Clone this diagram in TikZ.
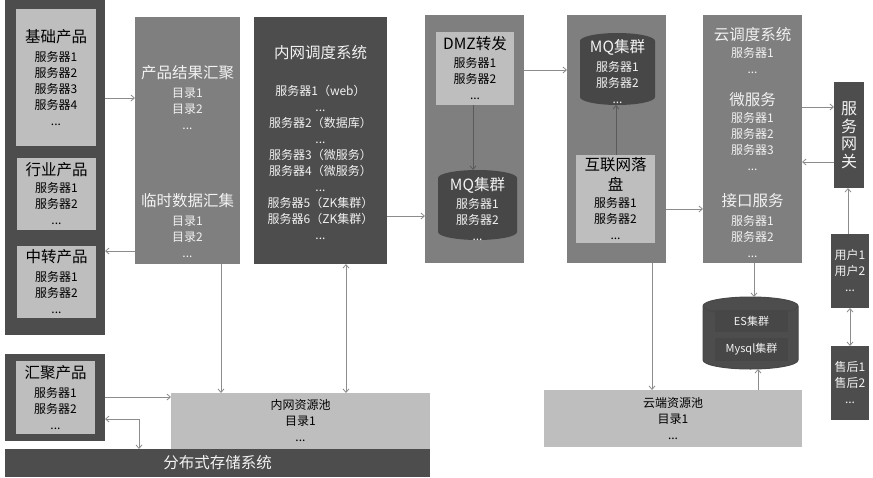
\documentclass[tikz,border=0pt]{standalone}
\usepackage{fontspec}
\setmainfont{Noto Sans CJK SC}
\usetikzlibrary{shapes.geometric,arrows.meta}
\definecolor{boxdark}{HTML}{4D4D4D}
\definecolor{boxmid}{HTML}{7F7F7F}
\definecolor{boxlight}{HTML}{BEBEBE}
\definecolor{cyldark}{HTML}{474747}
\definecolor{linegray}{HTML}{8C8C8C}
\definecolor{linedark}{HTML}{5A5A5A}
\definecolor{textlight}{HTML}{F2F2F2}
\newcommand{\headfont}{\fontsize{15.5}{19}\selectfont}
\tikzset{
  darkbox/.style={fill=boxdark,inner sep=1pt,outer sep=0pt,text=textlight,align=center},
  midbox/.style={fill=boxmid,inner sep=1pt,outer sep=0pt,text=textlight,align=center},
  lightbox/.style={fill=boxlight,inner sep=1pt,outer sep=0pt,text=black,align=center},
  cyl/.style={cylinder,shape border rotate=90,anchor=shape center,inner sep=10pt,aspect=0.8,fill=cyldark,outer sep=0pt},
  lighttext/.style={text=textlight,align=center,inner sep=0pt},
  conn/.style={draw=linegray,line width=0.8pt,->,>={Straight Barb[length=3.5pt,width=6pt]}}
}
\begin{document}
\begin{tikzpicture}[x=1pt,y=1pt,yscale=-1,font=\fontsize{12}{16}\selectfont]
    \useasboundingbox (0,0) rectangle (873,477);
    \node[darkbox,minimum width=100,minimum height=335] (prodpanel) at (55,167.5) {};
    \node[lightbox,minimum width=80,minimum height=137] (basebox) at (56,77.5)
      {{\headfont 基础产品}\\[3pt]服务器1\\服务器2\\服务器3\\服务器4\\...};
    \node[lightbox,minimum width=79,minimum height=72] (industrybox) at (56.5,194)
      {{\headfont 行业产品}\\[1pt]服务器1\\服务器2\\...};
    \node[lightbox,minimum width=79,minimum height=72] (transbox) at (56.5,282)
      {{\headfont 中转产品}\\[3pt]服务器1\\服务器2\\...};
    \node[darkbox,minimum width=100,minimum height=87] (hjpanel) at (55,397.5) {};
    \node[lightbox,minimum width=79,minimum height=73] (hjbox) at (55.5,397.5)
      {{\headfont 汇聚产品}\\[3pt]服务器1\\服务器2\\...};
    \node[lightbox,minimum width=259,minimum height=56] (innerpool) at (300.5,421)
      {内网资源池\\目录1\\...};
    \node[darkbox,minimum width=425,minimum height=28,font=\headfont] (storage) at (217.5,463) {分布式存储系统};

    \node[midbox,minimum width=105,minimum height=247] (result) at (187.5,140.5) {};
    \node[lighttext] (resulttop) at (187.5,98) {{\headfont 产品结果汇聚}\\[3pt]目录1\\目录2\\...};
    \node[lighttext] (resultlow) at (187.5,226) {{\headfont 临时数据汇集}\\[3pt]目录1\\目录2\\...};

    \node[darkbox,minimum width=133,minimum height=247] (innersched) at (320.5,140.5) {};
    \node[lighttext] (schedhead) at (320.5,53) {\headfont 内网调度系统};
    \node[lighttext] (schedlist) at (320.5,162)
      {服务器1（web）\\...\\服务器2（数据库）\\...\\服务器3（微服务）\\服务器4（微服务）\\...\\服务器5（ZK集群）\\服务器6（ZK集群）\\...};

    \node[midbox,minimum width=99,minimum height=248] (dmzgrp) at (474.5,139) {};
    \node[lightbox,minimum width=78,minimum height=73] (dmz) at (475,68.5)
      {{\headfont DMZ转发}\\[2pt]服务器1\\服务器2\\...};
    \node[cyl,minimum width=79,minimum height=70] (mqa) at (477.5,205) {};
    \node[lighttext] (mqatext) at (477.5,209) {{\headfont MQ集群}\\[2pt]服务器1\\服务器2\\...};

    \node[midbox,minimum width=99,minimum height=248] (netgrp) at (616.5,139) {};
    \node[cyl,minimum width=75,minimum height=72] (mqb) at (617.5,69) {};
    \node[lighttext] (mqbtext) at (617.5,72) {{\headfont MQ集群}\\[3pt]服务器1\\服务器2\\...};
    \node[lightbox,minimum width=79,minimum height=88] (netdisk) at (615.5,199)
      {{\headfont 互联网落}\\[4pt]{\headfont 盘}\\[1pt]服务器1\\服务器2\\...};

    \node[midbox,minimum width=99,minimum height=248] (cloud) at (752.5,139) {};
    \node[lighttext] (cloudtop) at (752.5,51) {{\headfont 云调度系统}\\[1pt]服务器1\\...};
    \node[lighttext] (cloudmid) at (752.5,132) {{\headfont 微服务}\\[1pt]服务器1\\服务器2\\服务器3\\...};
    \node[lighttext] (cloudlow) at (752.5,226) {{\headfont 接口服务}\\[3pt]服务器1\\服务器2\\...};

    \node[darkbox,minimum width=30,minimum height=106,font=\fontsize{16}{17.5}\selectfont] (gateway) at (849,135) {服\\务\\网\\关};
    \node[darkbox,minimum width=38,minimum height=74] (users) at (850,271) {用户1\\用户2\\...};
    \node[darkbox,minimum width=38,minimum height=74] (aftersale) at (850,383) {售后1\\售后2\\...};

    \node[cyl,aspect=0.9,fill=boxdark,draw=cyldark,line width=1pt,minimum width=95,minimum height=72] (esdb) at (750.5,333) {};
    \node[darkbox,fill=cyldark,minimum width=73,minimum height=22,font=\fontsize{11}{13}\selectfont] (esbar) at (751.5,321) {ES集群};
    \node[darkbox,fill=cyldark,minimum width=73,minimum height=23,font=\fontsize{11}{13}\selectfont] (mysqlbar) at (751.5,349.5) {Mysql集群};
    \node[lightbox,minimum width=258,minimum height=57] (cloudpool) at (673,418.5)
      {云端资源池\\目录1\\...};

    \draw[conn] (prodpanel.east |- 0,98) -- (result.west |- 0,98);
    \draw[conn] (result.west |- 0,251) -- (prodpanel.east |- 0,251);
    \draw[conn] (result.south -| 221,0) -- (innerpool.north -| 221,0);
    \draw[conn,<->] (innersched.south -| 346,0) -- (innerpool.north -| 346,0);
    \draw[conn] (hjpanel.east |- 0,397) -- (innerpool.west |- 0,397);
    \draw[conn,<->] (hjpanel.east |- 0,419) -| (storage.north -| 139,0);
    \draw[conn] (innersched.east |- 0,216) -- (dmzgrp.west |- 0,216);
    \draw[conn,draw=linedark] (dmz.south -| 473,0) -- (mqa.north -| 473,0);
    \draw[conn] (dmzgrp.east |- 0,70) -- (netgrp.west |- 0,70);
    \draw[conn,draw=linedark] (netdisk.north -| 616,0) -- (mqb.south -| 616,0);
    \draw[conn] (netgrp.east |- 0,209) -- (cloud.west |- 0,209);
    \draw[conn] (cloud.east |- 0,107) -- (gateway.west |- 0,107);
    \draw[conn] (gateway.west |- 0,162) -- (cloud.east |- 0,162);
    \draw[conn] (users.north -| 848,0) -- (gateway.south -| 848,0);
    \draw[conn,<->] (users.south) -- (aftersale.north);
    \draw[conn] (netgrp.south -| 652,0) -- (cloudpool.north -| 652,0);
    \draw[conn] (cloud.south -| 754,0) -- (esdb.north -| 754,0);
    \draw[conn] (cloudpool.north -| 758,0) -- (esdb.south -| 758,0);
\end{tikzpicture}
\end{document}
